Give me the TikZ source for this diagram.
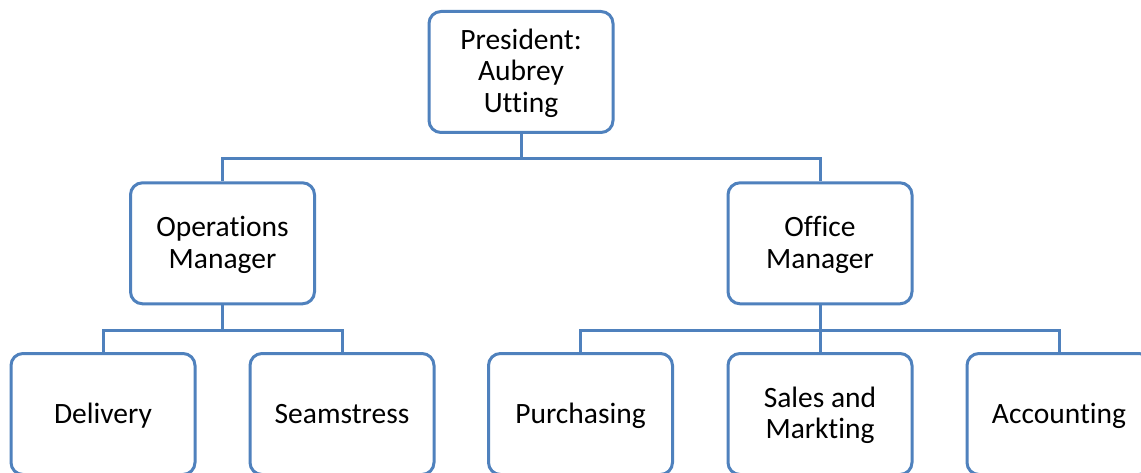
\documentclass[tikz,border=0pt]{standalone}
\usepackage{fontspec}
\setmainfont{Carlito}[Ligatures=NoCommon]
\definecolor{boxblue}{HTML}{4F81BD}
\newcommand\orgtop{\rule{0pt}{26pt}}
\newcommand\orgbot{\rule[-8pt]{0pt}{8pt}}
\tikzset{
  orgbox/.style={draw=boxblue, line width=3pt, rounded corners=12pt, fill=white,
    minimum width=184pt, minimum height=121pt, align=center, inner sep=2pt,
    font=\fontsize{29.5}{31.7}\selectfont},
  link/.style={draw=boxblue, line width=3pt}
}
\begin{document}
\begin{tikzpicture}[x=1pt,y=-1pt]
\clip (0,0) rectangle (1141,473);
\fill[white] (0,0) rectangle (1141,473);
\node[orgbox] (pres) at (521,72) {\orgtop President:\\Aubrey\\Utting\orgbot};
\node[orgbox] (ops) at (222.5,243.3) {\orgtop Operations\\Manager\orgbot};
\node[orgbox] (off) at (820,243.3) {\orgtop Office\\Manager\orgbot};
\node[orgbox] (del) at (103,414) {\orgtop Delivery\orgbot};
\node[orgbox] (sea) at (342,414) {\orgtop Seamstress\orgbot};
\node[orgbox] (pur) at (580.5,414) {\orgtop Purchasing\orgbot};
\node[orgbox] (sal) at (820,414) {\orgtop Sales and\\Markting\orgbot};
\node[orgbox] (acc) at (1059,414) {\orgtop Accounting\orgbot};
\draw[link] (pres.south) -- ++(0,25) coordinate (j1);
\draw[link] (j1) -| (ops.north);
\draw[link] (j1) -| (off.north);
\draw[link] (ops.south) -- ++(0,25) coordinate (j2);
\draw[link] (j2) -| (del.north);
\draw[link] (j2) -| (sea.north);
\draw[link] (off.south) -- ++(0,25) coordinate (j3);
\draw[link] (j3) -| (pur.north);
\draw[link] (j3) -| (sal.north);
\draw[link] (j3) -| (acc.north);
\end{tikzpicture}
\end{document}
